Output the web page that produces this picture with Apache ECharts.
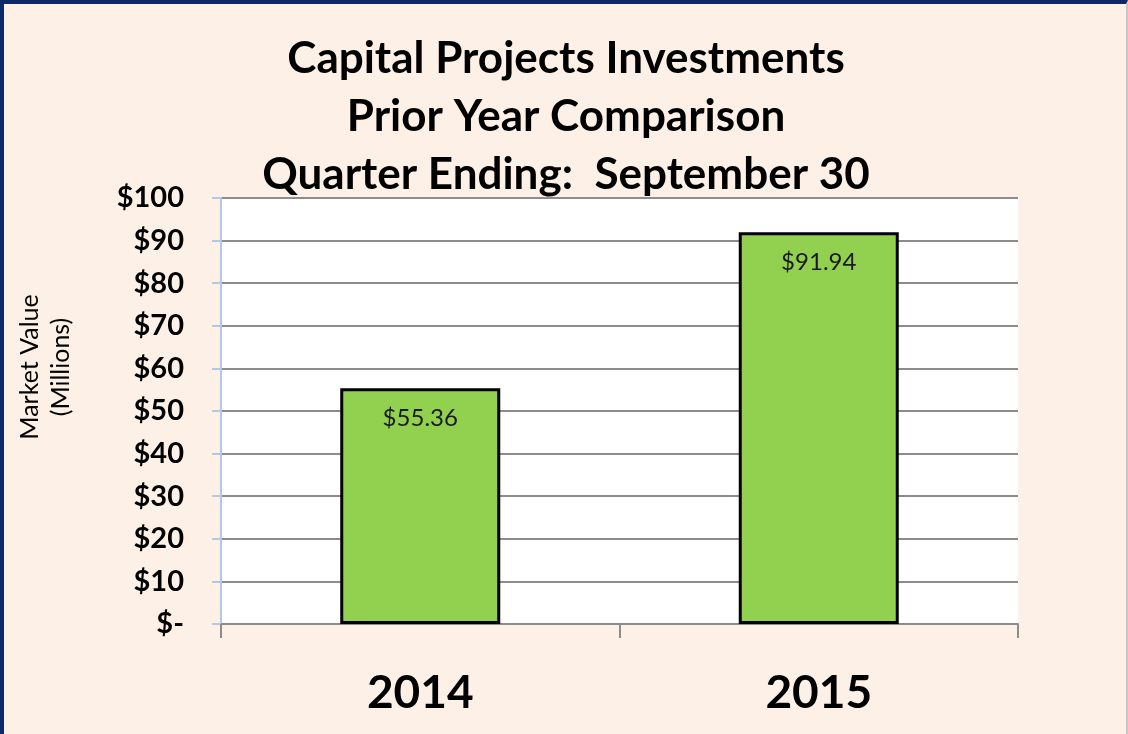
<!DOCTYPE html>
<html>
<head>
<meta charset="utf-8">
<script src="https://cdn.jsdelivr.net/npm/echarts@6/dist/echarts.min.js"></script>
<style>
  html, body { margin: 0; padding: 0; }
  #frame {
    width: 1128px; height: 734px; box-sizing: border-box;
    border-left: 4px solid #0f2867; border-top: 4px solid #0f2867;
    border-right: 2px solid #c8c8c8;
    background: #fdf1e7;
  }
  #chart { width: 100%; height: 100%; }
</style>
</head>
<body>
<div id="frame"><div id="chart"></div></div>
<script>
var years = ["2014", "2015"];
var marketValues = [55.36, 91.94];
var titleLines = ["Capital Projects Investments", "Prior Year Comparison", "Quarter Ending:  September 30"];
var yAxisTitle = "Market Value\n(Millions)";

var chartDom = document.getElementById("chart");
var myChart = echarts.init(chartDom);
var option;

option = {
  textStyle: { fontFamily: "Lato" },
  title: {
    text: titleLines.join("\n"),
    left: 557,
    textAlign: "center",
    top: 21,
    textStyle: { fontSize: 44, fontWeight: "bold", color: "#000", lineHeight: 58, fontFamily: "Lato" }
  },
  // rotated y axis title sits above the middle of the axis in the original
  graphic: [
    {
      type: "text",
      x: 41,
      y: 363,
      rotation: Math.PI / 2,
      style: {
        text: yAxisTitle,
        fontSize: 25,
        lineHeight: 31,
        fontFamily: "Lato",
        fill: "#000",
        align: "center",
        verticalAlign: "middle"
      }
    }
  ],
  grid: { left: 217, right: 108, top: 194, bottom: 110, backgroundColor: "#fff", show: true, borderWidth: 0 },
  xAxis: {
    type: "category",
    data: years,
    axisLine: { lineStyle: { color: "#8c8c8c", width: 2 } },
    axisTick: { show: true, length: 14, lineStyle: { color: "#8c8c8c", width: 2 } },
    axisLabel: { fontSize: 46, fontWeight: "bold", color: "#000", margin: 46 }
  },
  yAxis: {
    type: "value",
    min: 0,
    max: 100,
    interval: 10,
    axisLine: { show: true, lineStyle: { color: "#b4c7e7", width: 2 } },
    axisTick: { show: true, length: 9, lineStyle: { color: "#b4c7e7", width: 2 } },
    splitLine: { lineStyle: { color: "#8c8c8c", width: 2 } },
    axisLabel: {
      fontSize: 29, fontWeight: "bold", color: "#000", margin: 37,
      formatter: function (v) { return v === 0 ? "$-" : "$" + v; }
    }
  },
  series: [
    {
      type: "bar",
      data: marketValues,
      barWidth: 160,
      itemStyle: { color: "#92d050", borderColor: "#000", borderWidth: 3 },
      label: {
        show: true,
        position: "insideTop",
        distance: 18,
        fontSize: 24,
        color: "#1a1a1a",
        formatter: function (p) { return "$" + p.value.toFixed(2); }
      }
    }
  ]
};

option && myChart.setOption(option);
</script>
</body>
</html>
